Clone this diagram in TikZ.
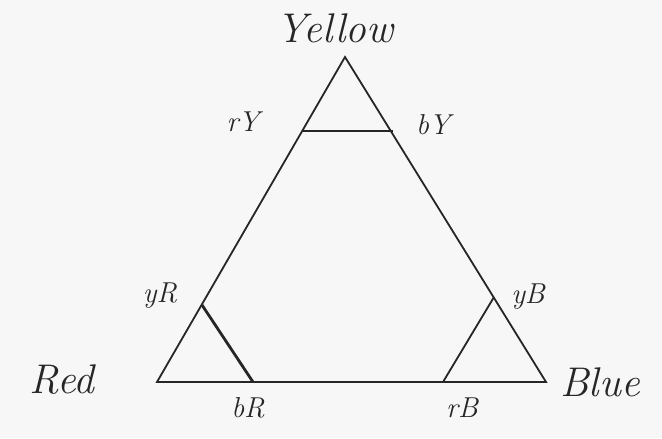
\documentclass[tikz,border=0pt]{standalone}
\begin{document}
\begin{tikzpicture}[x = 0.5pt, y = -0.5pt, line width = 0.9pt, draw = black!85,
  lbl/.style = {font = \itshape\Large, text = black!85},
  cut/.style = {line width = 1.4pt}]
\fill [black!3] (0,0) rectangle (662,438);
\coordinate (Y) at (345,57);
\coordinate (R) at (157,382);
\coordinate (B) at (546,382);
\coordinate (rY) at (302,131);
\coordinate (bY) at (393,131);
\coordinate (yR) at (202,305);
\coordinate (bR) at (253,382);
\coordinate (yB) at (494,297);
\coordinate (rB) at (443,382);
\draw (R) -- (B) -- (Y) -- cycle;
\draw [cut] (rY) -- (bY);
\draw [cut] (yR) -- (bR);
\draw (yB) -- (rB);
\node [lbl, font = \itshape\huge] (tY) at (335,28) {Yellow};
\node [lbl, font = \itshape\huge] (tR) at (62,380) {Red};
\node [lbl, font = \itshape\huge] (tB) at (600,382) {Blue};
\node [lbl] (trY) at (243,122) {rY};
\node [lbl] (tbY) at (433,125) {bY};
\node [lbl] (tyR) at (160,296) {yR};
\node [lbl] (tyB) at (528,297) {yB};
\node [lbl] (tbR) at (248,408) {bR};
\node [lbl] (trB) at (462,408) {rB};
\end{tikzpicture}
\end{document}
